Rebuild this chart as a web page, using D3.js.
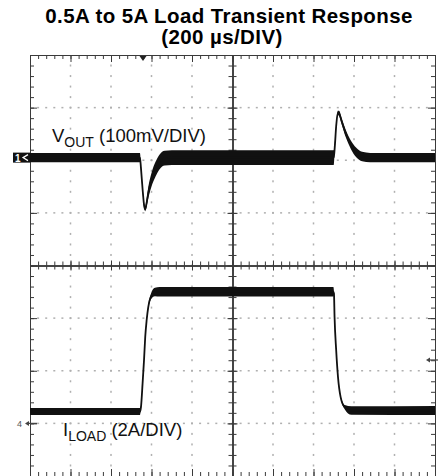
<!DOCTYPE html>
<html>
<head>
<meta charset="utf-8">
<script src="https://cdnjs.cloudflare.com/ajax/libs/d3/7.8.5/d3.min.js"></script>
<style>
body { margin: 0; background: #fff; }
svg { display: block; }
</style>
</head>
<body>
<div id="chart"></div>
<script>
// scope shot, 200 us/DIV over 10 divisions
// VOUT (ch1) in mV from its ground marker, 100 mV/DIV
var voutTime  = [0, 543, 548, 556, 564, 569, 575, 585, 600, 620, 640, 665, 700, 1500, 1505, 1512, 1520, 1526, 1540, 1560, 1585, 1610, 1640, 1680, 2000];
var voutMv    = [0, 0, -20, -60, -92, -98, -88, -65, -42, -22, -8, -1, 0, 0, 20, 60, 85, 84, 68, 45, 24, 10, 2, 0, 0];
var voutNoise = [9, 9, 4, 4, 4, 4, 7, 11, 13, 14, 14, 14, 14, 14, 6, 4, 4, 5, 6, 7, 8, 9, 9, 9, 9];

// ILOAD (ch4) in A, 2 A/DIV
var iloadTime  = [0, 543, 548, 556, 563, 569, 576, 584, 596, 617, 640, 1498, 1501, 1504, 1512, 1521, 1534, 1554, 1587, 2000];
var iloadAmp   = [0.45, 0.45, 0.62, 1.52, 2.4, 3.28, 3.92, 4.42, 4.8, 4.99, 5.0, 5.0, 4.94, 4.04, 2.78, 1.76, 1.0, 0.62, 0.49, 0.49];
var iloadNoise = [0.13, 0.13, 0.05, 0.03, 0.03, 0.03, 0.04, 0.06, 0.1, 0.16, 0.18, 0.18, 0.08, 0.03, 0.03, 0.03, 0.04, 0.08, 0.16, 0.17];

var titleLines = ["0.5A to 5A Load Transient Response", "(200 µs/DIV)"];
var voutLabel = ["V", "OUT", " (100mV/DIV)"];
var iloadLabel = ["I", "LOAD", " (2A/DIV)"];
var triggerTime = 558;

var width = 438, height = 476;
var plotLeft = 30, plotRight = 435, plotTop = 55, plotBottom = 476;

var svg = d3.select("#chart").append("svg")
  .attr("width", width)
  .attr("height", height)
  .style("font-family", "'Liberation Sans', Arial, sans-serif");

// time axis and division scale
var x = d3.scaleLinear().domain([0, 2000]).range([plotLeft, plotRight]);
var yDiv = d3.scaleLinear().domain([-4, 4]).range([plotBottom, plotTop]);
// channel scales, ch1 sits 2.05 div up, ch4 3 div down
var yV = d3.scaleLinear().domain([(-4 - 2.05) * 100, (4 - 2.05) * 100]).range([plotBottom, plotTop]);
var yI = d3.scaleLinear().domain([(-4 + 3) * 2, (4 + 3) * 2]).range([plotBottom, plotTop]);

var xMinor = d3.range(0, 51).map(function(d) { return d * 40; });
var xMajor = d3.range(0, 11).map(function(d) { return d * 200; });
var yMinor = d3.range(-20, 21).map(function(d) { return d / 5; });
var yMajor = d3.range(-4, 5);

// dotted graticule
var grid = svg.append("g").attr("fill", "#b0b0b0");
xMajor.filter(function(d) { return d != 0 && d != 1000 && d != 2000; }).forEach(function(t) {
  grid.selectAll(null)
    .data(yMinor.filter(function(v) { return Math.abs(v) < 4; }))
    .enter().append("rect")
    .attr("x", x(t) - 0.75)
    .attr("y", function(v) { return yDiv(v) - 1; })
    .attr("width", 1.5)
    .attr("height", 2);
});
yMajor.filter(function(d) { return d != 0 && Math.abs(d) != 4; }).forEach(function(v) {
  grid.selectAll(null)
    .data(xMinor.filter(function(t) { return t > 0 && t < 2000; }))
    .enter().append("rect")
    .attr("x", function(t) { return x(t) - 1; })
    .attr("y", yDiv(v) - 0.75)
    .attr("width", 2)
    .attr("height", 1.5);
});

function ruler(axisFn, scale, pos, minorVals, majorVals, minorLen, majorLen, horizontal) {
  [[minorVals, minorLen], [majorVals, majorLen]].forEach(function(p) {
    var g = svg.append("g")
      .attr("transform", horizontal ? "translate(0," + pos + ")" : "translate(" + pos + ",0)")
      .call(axisFn(scale).tickValues(p[0]).tickSize(p[1]).tickSizeOuter(0).tickFormat(""));
    g.selectAll("line, path").attr("stroke", "#3a3a3a").attr("stroke-width", 1);
  });
}

// frame edges
ruler(d3.axisBottom, x, plotTop, xMinor, xMajor, 4, 7, true);
ruler(d3.axisTop, x, plotBottom, xMinor, xMajor, 4, 7, true);
ruler(d3.axisRight, yDiv, plotLeft, yMinor, yMajor, 4, 7, false);
ruler(d3.axisLeft, yDiv, plotRight, yMinor, yMajor, 4, 7, false);
// centre cross
ruler(d3.axisTop, x, yDiv(0), xMinor, xMajor, 4, 5, true);
ruler(d3.axisBottom, x, yDiv(0), xMinor, xMajor, 4, 5, true);
ruler(d3.axisLeft, yDiv, x(1000), yMinor, yMajor, 4, 5, false);
ruler(d3.axisRight, yDiv, x(1000), yMinor, yMajor, 4, 5, false);

// traces
function drawTrace(times, vals, noise, yScale) {
  var pts = times.map(function(t, i) { return {t: t, v: vals[i], n: noise[i]}; });
  var area = d3.area()
    .x(function(d) { return x(d.t); })
    .y0(function(d) { return yScale(d.v - d.n); })
    .y1(function(d) { return yScale(d.v + d.n); })
    .curve(d3.curveMonotoneX);
  var line = d3.line()
    .x(function(d) { return x(d.t); })
    .y(function(d) { return yScale(d.v); })
    .curve(d3.curveMonotoneX);
  svg.append("path").datum(pts).attr("d", area).attr("fill", "#111");
  svg.append("path").datum(pts).attr("d", line)
    .attr("fill", "none").attr("stroke", "#111").attr("stroke-width", 1.8);
}
drawTrace(voutTime, voutMv, voutNoise, yV);
drawTrace(iloadTime, iloadAmp, iloadNoise, yI);

// trigger position on top edge
svg.append("path")
  .attr("d", "M" + (x(triggerTime) - 3.5) + "," + (plotTop + 1) + "h7l-3.5,5z")
  .attr("fill", "#222");

// ch1 ground marker
var g1 = yV(0);
svg.append("rect").attr("x", 13).attr("y", g1 - 5).attr("width", 17).attr("height", 10).attr("fill", "#111");
svg.append("text").attr("x", 15).attr("y", g1 + 4).attr("fill", "#fff")
  .style("font-size", "10px").style("font-weight", "bold").text("1");
svg.append("path").attr("d", "M28," + (g1 - 3) + "L23," + g1 + "L28," + (g1 + 3))
  .attr("fill", "none").attr("stroke", "#fff").attr("stroke-width", 1.2);

// ch4 ground marker
var g4 = yI(0);
svg.append("text").attr("x", 17).attr("y", g4 + 3.5).attr("fill", "#555")
  .style("font-size", "9px").text("4");
svg.append("path").attr("d", "M25," + g4 + "l4,-2.5v5z").attr("fill", "#444");
svg.append("line").attr("x1", 28).attr("x2", 37).attr("y1", g4).attr("y2", g4)
  .attr("stroke", "#444").attr("stroke-width", 1.2);

// trigger level marker on right edge
var trigY = 360;
svg.append("path").attr("d", "M426," + trigY + "l4,-2.5v5z").attr("fill", "#444");
svg.append("line").attr("x1", 429).attr("x2", 438).attr("y1", trigY).attr("y2", trigY)
  .attr("stroke", "#444").attr("stroke-width", 1.2);

// title
svg.append("text").attr("x", 229).attr("y", 23)
  .attr("text-anchor", "middle")
  .style("font-size", "20.5px").style("font-weight", "bold").style("letter-spacing", "0.4px")
  .text(titleLines[0]);
svg.append("text").attr("x", 222).attr("y", 44)
  .attr("text-anchor", "middle")
  .style("font-size", "20.5px").style("font-weight", "bold").style("letter-spacing", "0.4px")
  .text(titleLines[1]);

// channel labels
function chanLabel(lbl, px, py) {
  var t = svg.append("text").attr("x", px).attr("y", py).attr("fill", "#111").style("font-size", "18.5px");
  t.append("tspan").text(lbl[0]);
  t.append("tspan").attr("dy", 4.5).style("font-size", "14px").text(lbl[1]);
  t.append("tspan").attr("dy", -4.5).text(lbl[2]);
}
chanLabel(voutLabel, 52, 142);
chanLabel(iloadLabel, 63, 436);
</script>
</body>
</html>
